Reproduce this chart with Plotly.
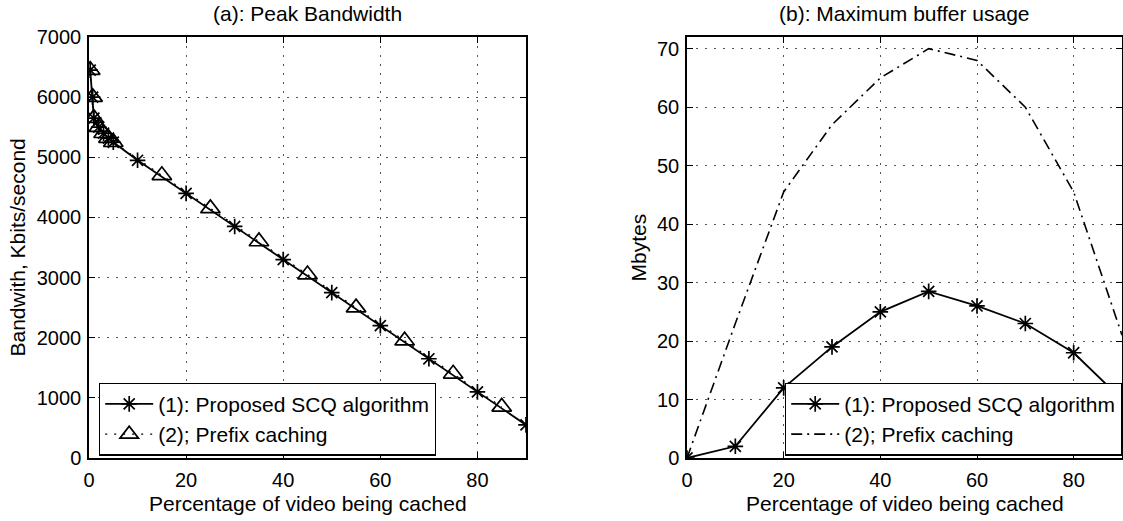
import plotly.graph_objects as go

# ---------------- data ----------------
# (a) Peak bandwidth (Kbits/second) vs percentage cached
bw_scq_x = [0.25, 0.75, 1, 2, 3, 4, 5, 10, 20, 30, 40, 50, 60, 70, 80, 90]
bw_scq_y = [6450, 6000, 5650, 5500, 5400, 5320, 5250, 4950, 4400, 3850, 3300, 2750, 2200, 1650, 1100, 550]
bw_pre_x = [0.25, 0.75, 1, 2, 3, 4, 5, 15, 25, 35, 45, 55, 65, 75, 85]
bw_pre_y = [6450, 6000, 5650, 5500, 5400, 5320, 5250, 4700, 4150, 3600, 3050, 2500, 1950, 1400, 850]

# (b) Maximum buffer usage (Mbytes)
buf_x = [0, 10, 20, 30, 40, 50, 60, 70, 80, 90]
buf_scq_y = [0, 2, 12, 19, 25, 28.5, 26, 23, 18, 10]
buf_pre_y = [0, 23, 45.5, 57, 65, 70, 68, 60, 45.5, 21]

x_ticks = [0, 20, 40, 60, 80]
bw_ticks = [0, 1000, 2000, 3000, 4000, 5000, 6000, 7000]
buf_ticks = [0, 10, 20, 30, 40, 50, 60, 70]

lbl_scq = "(1): Proposed SCQ algorithm"
lbl_pre = "(2); Prefix caching"
title_a = "(a): Peak Bandwidth"
title_b = "(b): Maximum buffer usage"
xlab = "Percentage of video being cached"
ylab_a = "Bandwith, Kbits/second"
ylab_b = "Mbytes"

# ---------------- layout constants ----------------
W, H = 1123, 521
FONT = "Liberation Sans, Arial, Helvetica, sans-serif"
FS = 21
TFS = 20
LFS = 21

def px_x(p):
    return p / W

def px_y(p):
    return 1 - p / H

top, bottom = 37, 458
la, ra = 89, 526
lb, rb = 687, 1122

fig = go.Figure()

fig.add_trace(go.Scatter(
    x=bw_pre_x, y=bw_pre_y, name=lbl_pre, mode="lines+markers",
    line=dict(color="black", width=1.2, dash="2px,7px"),
    marker=dict(symbol="triangle-up-open", size=17, color="black", line=dict(width=1.7, color="black")),
    xaxis="x", yaxis="y", legend="legend", legendrank=2))
fig.add_trace(go.Scatter(
    x=bw_scq_x, y=bw_scq_y, name=lbl_scq, mode="lines+markers",
    line=dict(color="black", width=1.8),
    marker=dict(symbol="asterisk-open", size=13, color="black", line=dict(width=1.7, color="black")),
    xaxis="x", yaxis="y", legend="legend", legendrank=1))

fig.add_trace(go.Scatter(
    x=buf_x, y=buf_scq_y, name=lbl_scq, mode="lines+markers",
    line=dict(color="black", width=1.8),
    marker=dict(symbol="asterisk-open", size=13, color="black", line=dict(width=1.7, color="black")),
    xaxis="x2", yaxis="y2", legend="legend2", legendrank=1))
fig.add_trace(go.Scatter(
    x=buf_x, y=buf_pre_y, name=lbl_pre, mode="lines",
    line=dict(color="black", width=1.6, dash="11px,5px,2px,5px"),
    xaxis="x2", yaxis="y2", legend="legend2", legendrank=2))

axis_common = dict(
    showline=True, linecolor="black", linewidth=1.5, mirror="ticks",
    ticks="inside", ticklen=6, tickwidth=1, tickcolor="black",
    showgrid=True, gridcolor="#555555", gridwidth=1, griddash="2px,7px",
    zeroline=False, automargin=False,
    tickfont=dict(family=FONT, size=TFS, color="black"),
)

fig.update_layout(
    width=W, height=H,
    margin=dict(l=0, r=0, t=0, b=0, pad=0),
    paper_bgcolor="white", plot_bgcolor="white",
    font=dict(family=FONT, size=FS, color="black"),
    xaxis=dict(domain=[px_x(la), px_x(ra)], range=[0, 90], tickvals=x_ticks, anchor="y",
               ticklabelstandoff=3, **axis_common),
    yaxis=dict(domain=[px_y(bottom), px_y(top)], range=[0, 7000], tickvals=bw_ticks, anchor="x",
               ticklabelstandoff=2, **axis_common),
    xaxis2=dict(domain=[px_x(lb), px_x(rb)], range=[0, 90], tickvals=x_ticks, anchor="y2",
                ticklabelstandoff=3, **axis_common),
    yaxis2=dict(domain=[px_y(bottom), px_y(top)], range=[0, 72], tickvals=buf_ticks, anchor="x2",
                ticklabelstandoff=2, **axis_common),
    legend=dict(x=px_x(99), y=px_y(419), xanchor="left", yanchor="middle",
                bgcolor="white", bordercolor="black", borderwidth=1.2,
                font=dict(family=FONT, size=LFS, color="black"),
                itemwidth=48, tracegroupgap=0, traceorder="normal"),
    legend2=dict(x=px_x(1122), y=px_y(419), xanchor="right", yanchor="middle",
                 bgcolor="white", bordercolor="black", borderwidth=1.2,
                 font=dict(family=FONT, size=LFS, color="black"),
                 itemwidth=48, tracegroupgap=0, traceorder="normal"),
    showlegend=True,
)

ann = []
ann.append(dict(text=title_a, x=px_x((la + ra) / 2), y=px_y(13), xref="paper", yref="paper",
                showarrow=False, xanchor="center", yanchor="middle"))
ann.append(dict(text=title_b, x=px_x((lb + rb) / 2), y=px_y(13), xref="paper", yref="paper",
                showarrow=False, xanchor="center", yanchor="middle"))
ann.append(dict(text=xlab, x=px_x((la + ra) / 2), y=px_y(503), xref="paper", yref="paper",
                showarrow=False, xanchor="center", yanchor="middle"))
ann.append(dict(text=xlab, x=px_x((lb + rb) / 2), y=px_y(503), xref="paper", yref="paper",
                showarrow=False, xanchor="center", yanchor="middle"))
ann.append(dict(text=ylab_a, x=px_x(17), y=px_y((top + bottom) / 2), xref="paper", yref="paper",
                showarrow=False, xanchor="center", yanchor="middle", textangle=-90))
ann.append(dict(text=ylab_b, x=px_x(638), y=px_y((top + bottom) / 2), xref="paper", yref="paper",
                showarrow=False, xanchor="center", yanchor="middle", textangle=-90))
for a in ann:
    a["font"] = dict(family=FONT, size=FS, color="black")
fig.update_layout(annotations=ann)

fig.write_html(
    "out.html",
    config={"displayModeBar": False},
    post_script="document.body.style.margin='0';document.body.style.padding='0';document.body.style.overflow='hidden';",
)
